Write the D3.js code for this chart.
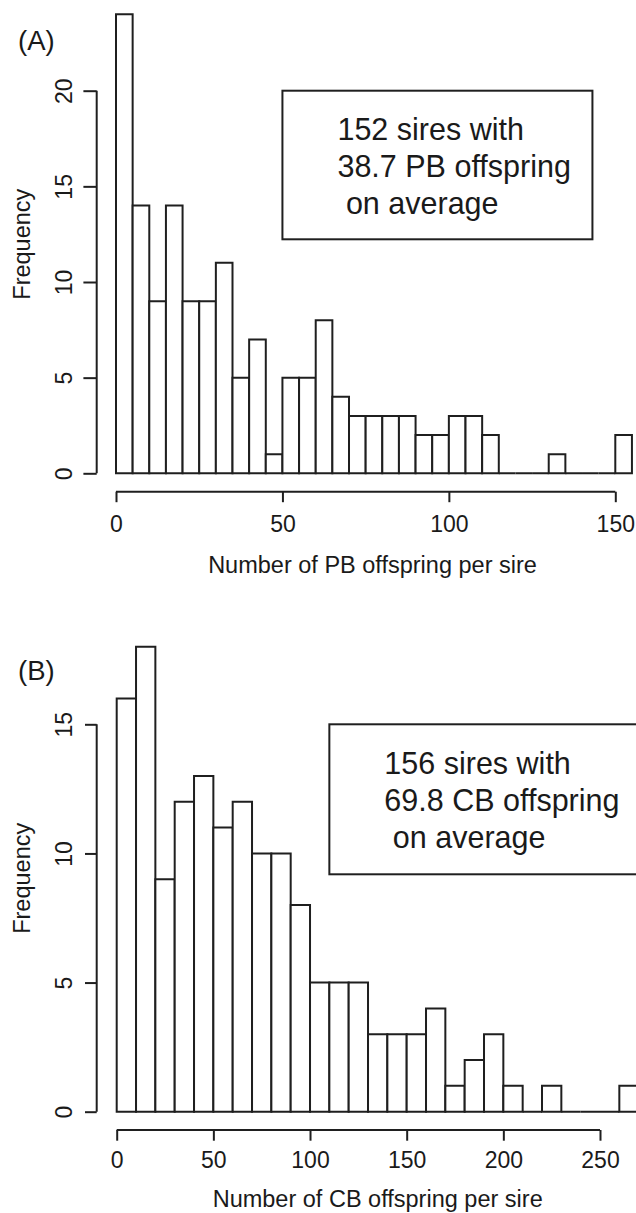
<!DOCTYPE html>
<html>
<head>
<meta charset="utf-8">
<script src="https://cdn.jsdelivr.net/npm/d3@7/dist/d3.min.js"></script>
<style>
  html, body { margin: 0; padding: 0; background: #fff; }
  svg { display: block; }
  text { font-family: "Liberation Sans", Arial, sans-serif; fill: #1a1a1a; }
  .legend-text { white-space: pre; }
</style>
</head>
<body>
<svg id="chart" width="636" height="1213"></svg>
<script>
// Panel A: purebred (PB) offspring per sire, bins of width 5
const pbBinWidth = 5;
const pbCounts = [24, 14, 9, 14, 9, 9, 11, 5, 7, 1, 5, 5, 8, 4, 3, 3, 3, 3, 2, 2, 3, 3, 2, 0, 0, 0, 1, 0, 0, 0, 2];
const pbXTicks = [0, 50, 100, 150];
const pbYTicks = [0, 5, 10, 15, 20];
const pbLegend = ["152 sires with", "38.7 PB offspring", " on average"];

// Panel B: crossbred (CB) offspring per sire, bins of width 10
const cbBinWidth = 10;
const cbCounts = [16, 18, 9, 12, 13, 11, 12, 10, 10, 8, 5, 5, 5, 3, 3, 3, 4, 1, 2, 3, 1, 0, 1, 0, 0, 0, 1];
const cbXTicks = [0, 50, 100, 150, 200, 250];
const cbYTicks = [0, 5, 10, 15];
const cbLegend = ["156 sires with", "69.8 CB offspring", " on average"];

const ink = "#1f1f1f";
const svg = d3.select("#chart");

function drawPanel(opt) {
  const g = svg.append("g");
  const x = d3.scaleLinear().domain(opt.xDomain).range(opt.xRange);
  const y = d3.scaleLinear().domain(opt.yDomain).range(opt.yRange);

  const bins = opt.counts.map((c, i) => ({ x0: i * opt.binWidth, x1: (i + 1) * opt.binWidth, n: c }));

  // histogram bars as closed outlines, so empty bins still show on the baseline
  g.append("g").selectAll("path").data(bins).join("path")
    .attr("d", d => `M${x(d.x0)},${y(0)}V${y(d.n)}H${x(d.x1)}V${y(0)}Z`)
    .attr("fill", "#fff")
    .attr("stroke", ink)
    .attr("stroke-width", 2)
    .attr("stroke-linejoin", "miter");

  // x axis, offset below the bars
  const xa = g.append("g")
    .attr("transform", `translate(0,${opt.xAxisY})`)
    .call(d3.axisBottom(x).tickValues(opt.xTicks).tickSize(opt.xTickLen).tickSizeOuter(0).tickFormat(d3.format("d")));
  xa.select(".domain").attr("stroke", ink).attr("stroke-width", 2)
    .attr("d", `M${x(opt.xTicks[0])},0H${x(opt.xTicks[opt.xTicks.length - 1])}`);
  xa.selectAll(".tick line").attr("stroke", ink).attr("stroke-width", 2);
  xa.selectAll(".tick text")
    .attr("y", opt.xLabelOffset).attr("dy", 0)
    .style("font-size", "23px").attr("fill", "#1a1a1a");

  // y axis, offset left of the bars, labels rotated
  const ya = g.append("g")
    .attr("transform", `translate(${opt.yAxisX},0)`)
    .call(d3.axisLeft(y).tickValues(opt.yTicks).tickSize(opt.yTickLen).tickSizeOuter(0).tickFormat(d3.format("d")));
  ya.select(".domain").attr("stroke", ink).attr("stroke-width", 2)
    .attr("d", `M0,${y(opt.yTicks[0])}V${y(opt.yTicks[opt.yTicks.length - 1])}`);
  ya.selectAll(".tick line").attr("stroke", ink).attr("stroke-width", 2);
  ya.selectAll(".tick text")
    .attr("transform", "rotate(-90)")
    .attr("x", 0).attr("y", -25).attr("dy", 0)
    .attr("text-anchor", "middle")
    .style("font-size", "23px").attr("fill", "#1a1a1a");

  // axis titles
  g.append("text")
    .attr("x", opt.xTitleX).attr("y", opt.xTitleY)
    .attr("text-anchor", "middle")
    .style("font-size", "23.5px")
    .text(opt.xTitle);
  g.append("text")
    .attr("transform", `translate(30,${opt.yTitleY}) rotate(-90)`)
    .attr("text-anchor", "middle")
    .style("font-size", "23.5px")
    .text("Frequency");

  // panel tag
  g.append("text")
    .attr("x", 18).attr("y", opt.tagY)
    .style("font-size", "27.5px")
    .text(opt.tag);

  // legend box anchored at a data position
  const bx = x(opt.legendAt[0]), by = y(opt.legendAt[1]);
  g.append("rect")
    .attr("x", bx).attr("y", by)
    .attr("width", opt.legendW).attr("height", opt.legendH)
    .attr("fill", "none").attr("stroke", ink).attr("stroke-width", 2);
  g.append("g").selectAll("text").data(opt.legend).join("text")
    .attr("class", "legend-text")
    .attr("x", bx + opt.legendTextDx)
    .attr("y", (d, i) => by + opt.legendTextDy + i * 36.7)
    .style("font-size", "30.5px")
    .text(d => d);
}

drawPanel({
  counts: pbCounts, binWidth: pbBinWidth,
  xDomain: [0, 150], xRange: [116, 615.3],
  yDomain: [0, 20], yRange: [473.3, 90.7],
  xTicks: pbXTicks, yTicks: pbYTicks,
  xAxisY: 491.7, xTickLen: 10.5, xLabelOffset: 40.3,
  yAxisX: 96.7, yTickLen: 13.3,
  xTitle: "Number of PB offspring per sire", xTitleX: 372.5, xTitleY: 573.3,
  yTitleY: 244.2,
  tag: "(A)", tagY: 50,
  legend: pbLegend, legendAt: [50, 20], legendW: 310, legendH: 148.6,
  legendTextDx: 55, legendTextDy: 49.5
});

drawPanel({
  counts: cbCounts, binWidth: cbBinWidth,
  xDomain: [0, 250], xRange: [116.7, 600],
  yDomain: [0, 15], yRange: [1111.7, 724.3],
  xTicks: cbXTicks, yTicks: cbYTicks,
  xAxisY: 1130, xTickLen: 10.7, xLabelOffset: 38.3,
  yAxisX: 96.7, yTickLen: 11.7,
  xTitle: "Number of CB offspring per sire", xTitleX: 377.7, xTitleY: 1207,
  yTitleY: 878.3,
  tag: "(B)", tagY: 680,
  legend: cbLegend, legendAt: [110, 15], legendW: 320, legendH: 150,
  legendTextDx: 55, legendTextDy: 50
});
</script>
</body>
</html>
